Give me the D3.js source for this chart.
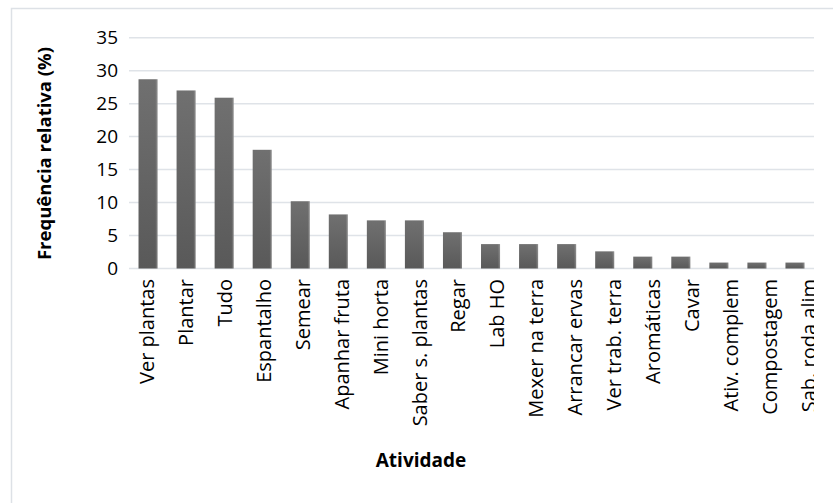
<!DOCTYPE html>
<html>
<head>
<meta charset="utf-8">
<script src="https://cdn.jsdelivr.net/npm/d3@7"></script>
<style>
  html, body { margin: 0; padding: 0; background: #fff; }
  svg { display: block; }
</style>
</head>
<body>
<svg id="chart" width="833" height="503"></svg>
<script>
// Activities and their relative frequency (%)
const categories = [
  "Ver plantas", "Plantar", "Tudo", "Espantalho", "Semear", "Apanhar fruta",
  "Mini horta", "Saber s. plantas", "Regar", "Lab HO", "Mexer na terra",
  "Arrancar ervas", "Ver trab. terra", "Aromáticas", "Cavar", "Ativ. complem",
  "Compostagem", "Sab. roda alim"
];
const values = [
  28.7, 27.0, 25.9, 18.0, 10.2, 8.2,
  7.3, 7.3, 5.5, 3.7, 3.7,
  3.7, 2.6, 1.8, 1.8, 0.9,
  0.9, 0.9
];
const yTicks = [0, 5, 10, 15, 20, 25, 30, 35];
const yTitle = "Frequência relativa (%)";
const xTitle = "Atividade";

const svg = d3.select("#chart");
const W = 833, H = 503;
const plot = { left: 129, right: 814, top: 37.7, bottom: 268.5 };
const FONT = "'Open Sans', 'Noto Sans', sans-serif";

// chart area frame
svg.append("rect")
  .attr("x", 11.5).attr("y", 8.5)
  .attr("width", 900).attr("height", 600)
  .attr("fill", "#fff")
  .attr("stroke", "#dde1e6")
  .attr("stroke-width", 1.5);

const x = d3.scaleBand()
  .domain(categories)
  .range([plot.left, plot.right])
  .paddingInner(0.5)
  .paddingOuter(0.25);

const y = d3.scaleLinear()
  .domain([0, 35])
  .range([plot.bottom, plot.top]);

// gridlines
svg.append("g")
  .selectAll("line")
  .data(yTicks)
  .join("line")
  .attr("x1", plot.left).attr("x2", plot.right)
  .attr("y1", d => y(d)).attr("y2", d => y(d))
  .attr("stroke", "#dfe3e8")
  .attr("stroke-width", 1.5);

// y axis labels
const yAxis = svg.append("g")
  .attr("transform", `translate(${plot.left},0)`)
  .call(d3.axisLeft(y).tickValues(yTicks).tickSize(0).tickPadding(11));
yAxis.select(".domain").remove();
yAxis.selectAll("text")
  .attr("font-family", FONT)
  .attr("font-size", 19)
  .attr("fill", "#000");

// bar shading
const defs = svg.append("defs");
const grad = defs.append("linearGradient")
  .attr("id", "barGrad")
  .attr("x1", 0).attr("y1", 0).attr("x2", 0).attr("y2", 1);
grad.append("stop").attr("offset", "0%").attr("stop-color", "#707070");
grad.append("stop").attr("offset", "100%").attr("stop-color", "#595959");

const gradH = defs.append("linearGradient")
  .attr("id", "barEdge")
  .attr("x1", 0).attr("y1", 0).attr("x2", 1).attr("y2", 0);
gradH.append("stop").attr("offset", "0%").attr("stop-color", "#fff").attr("stop-opacity", 0);
gradH.append("stop").attr("offset", "88%").attr("stop-color", "#fff").attr("stop-opacity", 0);
gradH.append("stop").attr("offset", "100%").attr("stop-color", "#fff").attr("stop-opacity", 0.25);

const bars = svg.append("g");
bars.selectAll("rect.bar")
  .data(values)
  .join("rect")
  .attr("class", "bar")
  .attr("x", (d, i) => x(categories[i]))
  .attr("y", d => y(d))
  .attr("width", x.bandwidth())
  .attr("height", d => y(0) - y(d))
  .attr("fill", "url(#barGrad)");
bars.selectAll("rect.edge")
  .data(values)
  .join("rect")
  .attr("class", "edge")
  .attr("x", (d, i) => x(categories[i]))
  .attr("y", d => y(d))
  .attr("width", x.bandwidth())
  .attr("height", d => y(0) - y(d))
  .attr("fill", "url(#barEdge)");

// category labels, clipped at the plot edge
defs.append("clipPath").attr("id", "labelClip")
  .append("rect")
  .attr("x", 0).attr("y", 0)
  .attr("width", plot.right).attr("height", H);

const labelX = d3.scalePoint()
  .domain(categories)
  .range([154, 815.8]);

svg.append("g")
  .attr("clip-path", "url(#labelClip)")
  .selectAll("text")
  .data(categories)
  .join("text")
  .attr("transform", d => `translate(${labelX(d)},279) rotate(-90)`)
  .attr("text-anchor", "end")
  .attr("font-family", FONT)
  .attr("font-size", 20)
  .attr("fill", "#000")
  .text(d => d);

// axis titles
svg.append("text")
  .attr("transform", "translate(51,153.5) rotate(-90)")
  .attr("text-anchor", "middle")
  .attr("font-family", FONT)
  .attr("font-weight", 700)
  .attr("font-size", 18.5)
  .attr("fill", "#000")
  .text(yTitle);

svg.append("text")
  .attr("x", 421).attr("y", 466.5)
  .attr("text-anchor", "middle")
  .attr("font-family", FONT)
  .attr("font-weight", 700)
  .attr("font-size", 19)
  .attr("fill", "#000")
  .text(xTitle);
</script>
</body>
</html>
